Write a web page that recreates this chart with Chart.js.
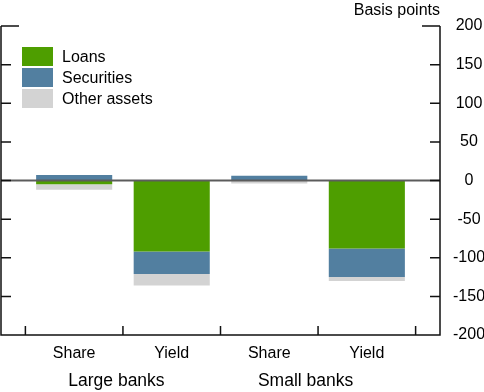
<!DOCTYPE html>
<html>
<head>
<meta charset="utf-8">
<script src="https://cdn.jsdelivr.net/npm/chart.js@4/dist/chart.umd.min.js"></script>
<style>
    body { margin: 0; background: #fff; }
    #wrap { position: relative; width: 484px; height: 392px; }
    #legend { position: absolute; left: 22px; top: 47px; font: 16px "Liberation Sans", Arial, sans-serif; color: #000; }
    .item { display: flex; align-items: center; height: 19px; margin-bottom: 2px; }
    .box { width: 31px; height: 19px; margin-right: 9px; }
</style>
</head>
<body>
<div id="wrap">
    <canvas id="chart" width="484" height="392"></canvas>
    <div id="legend"></div>
</div>
<script>
// categories along the x axis, two per bank group
const categories = ["Share", "Yield", "Share", "Yield"];
const groups = ["Large banks", "Small banks"];

// contributions in basis points
const loans = [-5, -92, 0, -88];
const securities = [7, -29, 6, -37];
const otherAssets = [-7, -15, -4, -5];

const yTicks = [-200, -150, -100, -50, 0, 50, 100, 150, 200];

const FONT = "'Liberation Sans', Arial, sans-serif";

function points(values) {
    return values.map((v, i) => ({ x: i + 0.5, y: v }));
}

const datasets = [
    { label: "Loans", data: points(loans), backgroundColor: "#4e9e00" },
    { label: "Securities", data: points(securities), backgroundColor: "#527fa0" },
    { label: "Other assets", data: points(otherAssets), backgroundColor: "#d3d3d3" }
];

// legend in html
const legend = document.getElementById("legend");
datasets.forEach(ds => {
    const item = document.createElement("div");
    item.className = "item";
    item.innerHTML = '<div class="box" style="background:' + ds.backgroundColor + '"></div><span>' + ds.label + '</span>';
    legend.appendChild(item);
});

// axis lines, inward ticks, zero line and labels
const decorations = {
    id: "decorations",
    afterDatasetsDraw(chart) {
        const ctx = chart.ctx;
        const area = chart.chartArea;
        const xs = chart.scales.x;
        const ys = chart.scales.y;
        ctx.save();

        // zero line
        const y0 = ys.getPixelForValue(0);
        ctx.strokeStyle = "#5c5c5c";
        ctx.lineWidth = 2;
        ctx.beginPath();
        ctx.moveTo(area.left, y0);
        ctx.lineTo(area.right, y0);
        ctx.stroke();

        ctx.strokeStyle = "#111";
        ctx.lineWidth = 1.5;
        ctx.beginPath();
        ctx.moveTo(area.left, area.top);
        ctx.lineTo(area.left, area.bottom);
        ctx.lineTo(area.right, area.bottom);
        ctx.lineTo(area.right, area.top);
        yTicks.forEach(t => {
            const py = ys.getPixelForValue(t);
            const len = t === 200 ? 18 : 10;
            ctx.moveTo(area.left, py);
            ctx.lineTo(area.left + len, py);
            ctx.moveTo(area.right, py);
            ctx.lineTo(area.right - len, py);
        });
        for (let i = 0; i <= categories.length; i++) {
            const px = xs.getPixelForValue(i);
            ctx.moveTo(px, area.bottom);
            ctx.lineTo(px, area.bottom - 9);
        }
        ctx.stroke();

        // group labels
        ctx.fillStyle = "#000";
        ctx.font = "17.5px " + FONT;
        ctx.textAlign = "center";
        ctx.textBaseline = "middle";
        const shift = [-6.5, -12.5];
        groups.forEach((g, i) => {
            ctx.fillText(g, xs.getPixelForValue(i * 2 + 1) + shift[i], 381);
        });

        // unit label
        ctx.font = "16px " + FONT;
        ctx.textAlign = "right";
        ctx.fillText("Basis points", area.right, 11);
        ctx.restore();
    }
};

new Chart(document.getElementById("chart"), {
    type: "bar",
    data: { datasets: datasets },
    options: {
        responsive: false,
        animation: false,
        layout: { padding: { top: 26, left: 1, right: 0, bottom: 0 } },
        datasets: { bar: { barPercentage: 0.78, categoryPercentage: 1 } },
        plugins: {
            legend: { display: false },
            tooltip: { enabled: false }
        },
        scales: {
            x: {
                type: "linear",
                stacked: true,
                offset: false,
                bounds: "ticks",
                min: -0.25,
                max: 4.25,
                grid: { display: false, drawTicks: false, offset: false },
                border: { display: false },
                afterBuildTicks: scale => {
                    scale.ticks = categories.map((c, i) => ({ value: i + 0.5 }));
                },
                afterFit: scale => { scale.height = 57; },
                ticks: {
                    padding: 9,
                    color: "#000",
                    font: { family: FONT, size: 16 },
                    callback: v => categories[Math.floor(v)]
                }
            },
            y: {
                position: "right",
                stacked: true,
                min: -200,
                max: 200,
                grid: { display: false, drawTicks: false },
                border: { display: false },
                afterFit: scale => { scale.width = 44; },
                ticks: {
                    stepSize: 50,
                    padding: 13,
                    crossAlign: "center",
                    color: "#000",
                    font: { family: FONT, size: 16 }
                }
            }
        }
    },
    plugins: [decorations]
});
</script>
</body>
</html>
